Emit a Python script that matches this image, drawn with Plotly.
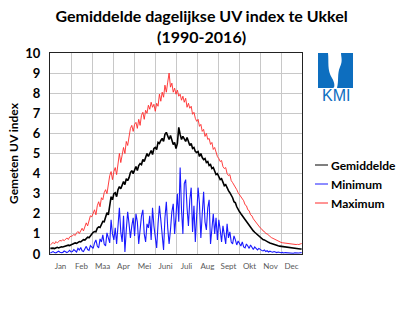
import plotly.graph_objects as go

# Day of year for every second day (1, 3, ..., 365)
days = list(range(1, 366, 2))

# Long-term daily UV index at Ukkel, one value every second day
gemiddelde = [
    # Jan
    0.28, 0.30, 0.29, 0.27, 0.31, 0.33, 0.30, 0.34, 0.36, 0.35, 0.38, 0.37, 0.41, 0.44, 0.42, 0.47,
    # Feb
    0.49, 0.52, 0.55, 0.53, 0.58, 0.62, 0.60, 0.64, 0.71, 0.69, 0.76, 0.84, 0.81, 0.92,
    # Maa
    1.00, 1.08, 1.12, 1.10, 1.28, 1.35, 1.32, 1.50, 1.62, 1.60, 1.80, 2.05, 1.95, 2.40, 2.85,
    # Apr
    2.70, 3.00, 3.05, 2.85, 3.20, 3.35, 3.25, 3.40, 3.60, 3.45, 3.75, 3.65, 3.80, 4.05, 4.15,
    # Mei
    4.00, 4.20, 4.35, 4.15, 4.40, 4.50, 4.45, 4.70, 4.60, 4.80, 5.00, 4.85, 5.05, 5.15, 4.95, 5.25,
    # Juni
    5.30, 5.20, 5.55, 5.50, 5.65, 5.75, 5.60, 5.95, 6.05, 5.85, 5.70, 5.90, 5.60, 5.45, 5.55,
    # Juli
    5.25, 5.50, 6.30, 5.95, 5.70, 5.85, 5.75, 5.60, 5.80, 5.55, 5.40, 5.50, 5.25, 5.30, 5.10,
    # Aug
    5.05, 5.10, 4.85, 5.00, 4.80, 4.70, 4.75, 4.55, 4.60, 4.40, 4.45, 4.25, 4.30, 4.10, 3.95, 4.00,
    # Sept
    3.85, 3.70, 3.75, 3.55, 3.40, 3.45, 3.25, 3.15, 3.05, 2.95, 2.80, 2.60, 2.55, 2.35, 2.20,
    # Okt
    2.10, 2.00, 1.90, 1.85, 1.70, 1.60, 1.50, 1.45, 1.32, 1.25, 1.15, 1.08, 1.02, 0.94, 0.88,
    # Nov
    0.82, 0.78, 0.72, 0.70, 0.65, 0.62, 0.58, 0.55, 0.52, 0.50, 0.47, 0.45, 0.43, 0.41, 0.39,
    # Dec
    0.38, 0.36, 0.35, 0.33, 0.32, 0.31, 0.30, 0.29, 0.29, 0.28, 0.27, 0.27, 0.26, 0.26, 0.25, 0.25,
]

maximum = [
    0.45, 0.52, 0.58, 0.50, 0.62, 0.55, 0.60, 0.68, 0.64, 0.72, 0.66, 0.75, 0.80, 0.72, 0.85, 0.88,
    0.90, 0.98, 0.92, 1.05, 1.12, 1.02, 1.20, 1.28, 1.15, 1.38, 1.55, 1.40, 1.70, 1.90,
    1.85, 2.05, 2.20, 1.95, 2.40, 2.60, 2.35, 2.80, 2.70, 3.05, 3.20, 3.00, 3.50, 3.90, 4.10,
    3.70, 4.10, 4.30, 3.95, 4.60, 5.00, 4.55, 4.90, 5.30, 5.00, 5.60, 5.40, 5.85, 6.25, 6.40,
    6.10, 6.45, 6.55, 6.25, 6.70, 6.40, 6.90, 7.05, 6.70, 7.15, 7.00, 7.40, 7.20, 7.55, 7.30, 7.45,
    7.10, 7.50, 7.35, 7.95, 7.60, 8.05, 7.80, 8.40, 8.05, 8.55, 9.00, 8.30, 8.50, 8.05, 8.25,
    7.95, 8.15, 7.85, 7.95, 7.65, 7.85, 7.55, 7.75, 7.30, 7.50, 7.25, 7.35, 6.95, 7.05, 6.75,
    6.60, 6.70, 6.35, 6.45, 6.10, 6.20, 5.85, 6.00, 5.70, 5.75, 5.45, 5.55, 5.20, 5.30, 5.00, 4.85,
    4.75, 4.60, 4.65, 4.35, 4.25, 4.30, 4.00, 3.90, 3.95, 3.65, 3.55, 3.45, 3.30, 3.20, 3.05,
    2.95, 2.85, 2.70, 2.65, 2.45, 2.40, 2.20, 2.15, 1.95, 1.90, 1.75, 1.65, 1.55, 1.45, 1.38,
    1.30, 1.25, 1.15, 1.12, 1.02, 1.00, 0.92, 0.88, 0.82, 0.78, 0.74, 0.70, 0.66, 0.63, 0.60,
    0.58, 0.56, 0.55, 0.53, 0.52, 0.51, 0.50, 0.50, 0.49, 0.48, 0.48, 0.47, 0.48, 0.47, 0.50, 0.52,
]

minimum = [
    0.05, 0.08, 0.12, 0.07, 0.05, 0.10, 0.14, 0.09, 0.06, 0.08, 0.15, 0.11, 0.07, 0.12, 0.18, 0.10,
    0.12, 0.22, 0.15, 0.10, 0.28, 0.20, 0.32, 0.16, 0.12, 0.30, 0.38, 0.22, 0.18, 0.42,
    0.35, 0.28, 0.55, 0.70, 0.40, 0.30, 0.75, 0.60, 0.95, 0.50, 0.40, 1.05, 0.80, 0.55, 1.70,
    1.00, 0.70, 1.30, 0.50, 1.60, 2.30, 1.10, 0.60, 1.90, 0.10, 1.20, 2.10, 1.50, 0.80, 1.40,
    1.80, 0.90, 2.00, 1.60, 0.50, 1.20, 1.90, 2.20, 1.00, 0.60, 1.50, 1.30, 1.90, 0.70, 2.30, 1.40,
    0.80, 0.30, 1.50, 2.40, 1.70, 0.90, 0.20, 1.80, 2.60, 1.30, 0.50, 1.20, 2.10, 2.50, 1.00,
    1.90, 3.00, 1.60, 4.30, 2.20, 1.00, 3.50, 3.70, 2.30, 1.40, 2.70, 3.30, 1.10, 2.40, 0.60,
    1.80, 3.30, 2.50, 0.80, 2.00, 3.10, 1.60, 1.20, 2.30, 2.70, 0.50, 1.40, 2.00, 1.00, 1.80, 0.70,
    1.70, 1.20, 0.60, 1.40, 1.00, 0.50, 1.50, 0.80, 1.10, 0.60, 0.50, 0.90, 0.70, 0.45, 0.65,
    0.55, 0.40, 0.60, 0.35, 0.30, 0.50, 0.40, 0.28, 0.45, 0.30, 0.22, 0.35, 0.25, 0.20, 0.28,
    0.22, 0.18, 0.15, 0.20, 0.12, 0.16, 0.10, 0.14, 0.11, 0.09, 0.12, 0.08, 0.07, 0.10, 0.08,
    0.06, 0.08, 0.05, 0.07, 0.06, 0.05, 0.04, 0.06, 0.05, 0.04, 0.06, 0.05, 0.04, 0.05, 0.06, 0.07,
]

month_labels = ["Jan", "Feb", "Maa", "Apr", "Mei", "Juni", "Juli", "Aug", "Sept", "Okt", "Nov", "Dec"]

series_names = ["Gemiddelde", "Minimum", "Maximum"]
series_colors = ["#000000", "#1a1aff", "#ff2a2a"]

# Month grid: 12 equal columns over the year
x_start, x_end = 0.5, 365.5
month_w = (x_end - x_start) / 12
month_edges = [x_start + i * month_w for i in range(13)]
month_mid = [x_start + (i + 0.5) * month_w for i in range(12)]

# Plot area in pixels (width 400, height 326)
L, R, T, B = 50, 98, 53, 72
PW, PH = 400 - L - R, 326 - T - B


def px(x):
    return (x - L) / PW


def py(y):
    return (326 - B - y) / PH


fig = go.Figure()
# Draw order: maximum, minimum, then mean on top
for name, vals, color, width in [
    ("Maximum", maximum, series_colors[2], 0.9),
    ("Minimum", minimum, series_colors[1], 1.1),
    ("Gemiddelde", gemiddelde, series_colors[0], 1.6),
]:
    fig.add_trace(go.Scatter(x=days, y=vals, mode="lines", name=name,
                             line=dict(color=color, width=width), showlegend=False))

# Legend drawn beside the plot
shapes = []
annotations = []
legend_y = [165, 184, 203]
for name, color, yy in zip(series_names, series_colors, legend_y):
    shapes.append(dict(type="line", xref="paper", yref="paper",
                       x0=px(315), x1=px(328), y0=py(yy), y1=py(yy),
                       line=dict(color=color, width=1)))
    annotations.append(dict(xref="paper", yref="paper", x=px(329), y=py(yy),
                            text=name, showarrow=False, xanchor="left", yanchor="middle",
                            font=dict(family="Lato", size=12, color="#000000", weight="bold")))

# KMI logo
logo_blue = "#0d6ebf"


def pts(*xy):
    out = []
    for i in range(0, len(xy), 2):
        out.append("{:.4f},{:.4f}".format(px(xy[i]), py(xy[i + 1])))
    return out


p = pts(318, 53, 328, 53, 329, 62, 327, 70, 332, 78, 335, 83, 335, 88, 333, 88, 318, 88)
logo_left = "M {} L {} C {} {} {} C {} {} {} L {} Z".format(*p)
q = pts(341, 53, 353, 53, 353, 88, 337, 88, 339, 81, 337, 74, 340, 67, 343, 61, 341, 57, 341, 53)
logo_right = "M {} L {} L {} L {} C {} {} {} C {} {} {} Z".format(*q)
for path in (logo_left, logo_right):
    shapes.append(dict(type="path", xref="paper", yref="paper", path=path,
                       fillcolor=logo_blue, line=dict(width=0)))
annotations.append(dict(xref="paper", yref="paper", x=px(335.5), y=py(95),
                        text="KMI", showarrow=False, xanchor="center", yanchor="middle",
                        font=dict(family="Liberation Sans", size=16, color=logo_blue)))

fig.update_layout(
    width=400, height=326,
    margin=dict(l=L, r=R, t=T, b=B),
    paper_bgcolor="white", plot_bgcolor="white",
    title=dict(text="Gemiddelde dagelijkse UV index te Ukkel<br>(1990-2016)",
               x=px(177), xanchor="center", y=1 - 22 / 326, yanchor="middle",
               font=dict(family="Lato", size=16, color="#000000", weight="bold")),
    showlegend=False,
    shapes=shapes,
    annotations=annotations,
    xaxis=dict(range=[x_start, x_end], tickmode="array", tickvals=month_mid,
               ticktext=month_labels, ticks="", showgrid=False, zeroline=False,
               ticklabelstandoff=4,
               tickfont=dict(family="Lato", size=8, color="#595959"),
               showline=True, linecolor="#222222", linewidth=1, mirror=True,
               minor=dict(tickmode="array", tickvals=month_edges, showgrid=True,
                          gridcolor="#c8c8c8", gridwidth=1, ticks="")),
    yaxis=dict(range=[0, 10], dtick=1, tick0=0, showgrid=True, gridcolor="#c8c8c8",
               gridwidth=1, zeroline=False, ticks="", ticklabelstandoff=6,
               tickfont=dict(family="Lato", size=13, color="#000000", weight="bold"),
               showline=True, linecolor="#222222", linewidth=1, mirror=True,
               title=dict(text="Gemeten UV index", standoff=4,
                          font=dict(family="Lato", size=12, color="#000000", weight="bold"))),
)

fig.write_html("out.html")
